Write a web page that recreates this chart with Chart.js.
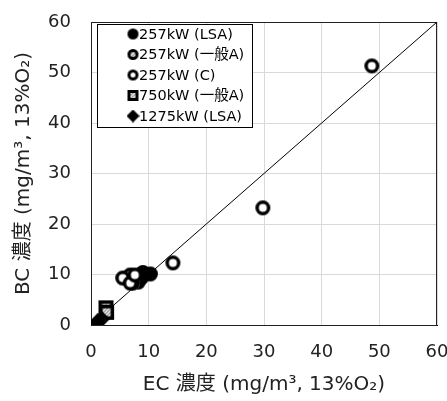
<!DOCTYPE html>
<html>
<head>
<meta charset="utf-8">
<script src="https://cdn.jsdelivr.net/npm/chart.js@4/dist/chart.umd.min.js"></script>
<style>
    html, body { margin: 0; padding: 0; background: #fff; }
    #wrap { width: 447px; height: 401px; }
</style>
</head>
<body>
<div id="wrap"><canvas id="chart" width="447" height="401"></canvas></div>
<script>
// Series values (EC on x, BC on y)
const lsaX = [8.2, 9.0, 10.3, 8.8];
const lsaY = [8.5, 10.4, 10.1, 9.4];
const ippanX = [6.8, 7.2];
const ippanY = [9.9, 8.3];
const cX = [48.7, 29.8, 14.2, 5.5, 6.8, 7.6];
const cY = [51.3, 23.2, 12.3, 9.3, 8.3, 9.9];
const sqX = [2.6, 2.7];
const sqY = [3.4, 2.5];
const diaX = [1.1, 1.8];
const diaY = [0.6, 1.2];

const seriesLabels = ['257kW (LSA)', '257kW (一般A)', '257kW (C)', '750kW (一般A)', '1275kW (LSA)'];
const markerKinds = ['filled', 'hatchCircle', 'ring', 'hatchSquare', 'diamond'];
const tickValues = [0, 10, 20, 30, 40, 50, 60];

const FONT = '"DejaVu Sans", Verdana, "Noto Sans CJK JP", sans-serif';

// build a marker image on a small canvas
function makeMarker(kind, d, lw) {
    const c = document.createElement('canvas');
    const s = d + 2;
    c.width = s; c.height = s;
    const g = c.getContext('2d');
    const m = s / 2;
    const hatch = () => {
        g.strokeStyle = '#9a9a9a';
        g.lineWidth = 1.5;
        for (let k = -s; k < 2 * s; k += 3.5) {
            g.beginPath();
            g.moveTo(k, s);
            g.lineTo(k + s, 0);
            g.stroke();
        }
    };
    if (kind === 'filled') {
        g.fillStyle = '#000';
        g.beginPath(); g.arc(m, m, d / 2, 0, Math.PI * 2); g.fill();
    } else if (kind === 'ring') {
        g.fillStyle = '#fff';
        g.strokeStyle = '#000';
        g.lineWidth = lw;
        g.beginPath(); g.arc(m, m, d / 2 - lw / 2, 0, Math.PI * 2); g.fill(); g.stroke();
    } else if (kind === 'hatchCircle') {
        g.save();
        g.beginPath(); g.arc(m, m, d / 2, 0, Math.PI * 2); g.clip();
        g.fillStyle = '#fff'; g.fillRect(0, 0, s, s);
        hatch();
        g.restore();
        g.strokeStyle = '#000'; g.lineWidth = lw;
        g.beginPath(); g.arc(m, m, d / 2 - lw / 2, 0, Math.PI * 2); g.stroke();
    } else if (kind === 'hatchSquare') {
        const a = 1;
        g.fillStyle = '#fff'; g.fillRect(a, a, d, d);
        g.save();
        g.beginPath(); g.rect(a, a, d, d); g.clip();
        hatch();
        g.restore();
        g.strokeStyle = '#000'; g.lineWidth = lw;
        g.strokeRect(a + lw / 2, a + lw / 2, d - lw, d - lw);
    } else if (kind === 'diamond') {
        g.fillStyle = '#000';
        g.beginPath();
        g.moveTo(m, 0); g.lineTo(s, m); g.lineTo(m, s); g.lineTo(0, m);
        g.closePath(); g.fill();
    }
    return c;
}

const plotMarkers = markerKinds.map(k => makeMarker(k, 15, 3.5));
const legendMarkers = markerKinds.map(k => makeMarker(k, 11, 3));

function pts(xs, ys) {
    return xs.map((x, i) => ({ x: x, y: ys[i] }));
}

// legend box drawn inside the plot, plus the plot frame
const boxLegend = {
    id: 'boxLegend',
    beforeDatasetsDraw(chart) {
        const { ctx, chartArea: a } = chart;
        ctx.save();
        ctx.strokeStyle = '#222';
        ctx.lineWidth = 1;
        ctx.strokeRect(a.left + 0.5, a.top + 0.5, a.right - a.left - 1, a.bottom - a.top);
        ctx.restore();
    },
    afterDraw(chart) {
        const { ctx, chartArea: a } = chart;
        const x0 = a.left + 6, y0 = a.top + 2;
        const w = 155, h = 103;
        ctx.save();
        ctx.fillStyle = '#fff';
        ctx.fillRect(x0, y0, w, h);
        ctx.strokeStyle = '#000';
        ctx.lineWidth = 1;
        ctx.strokeRect(x0 + 0.5, y0 + 0.5, w, h);
        ctx.font = '14.5px ' + FONT;
        ctx.fillStyle = '#000';
        ctx.textBaseline = 'middle';
        seriesLabels.forEach((lab, i) => {
            const cy = y0 + 10 + i * 20.5;
            const img = legendMarkers[i];
            ctx.drawImage(img, x0 + 36 - img.width / 2, cy - img.height / 2);
            ctx.fillText(lab, x0 + 42, cy + 1);
        });
        ctx.restore();
    }
};

const datasets = [
    { label: seriesLabels[0], data: pts(lsaX, lsaY) },
    { label: seriesLabels[1], data: pts(ippanX, ippanY) },
    { label: seriesLabels[2], data: pts(cX, cY) },
    { label: seriesLabels[3], data: pts(sqX, sqY) },
    { label: seriesLabels[4], data: pts(diaX, diaY) }
].map((ds, i) => Object.assign(ds, {
    type: 'scatter',
    pointStyle: plotMarkers[i],
    pointRadius: 8,
    order: 5 - i
}));

datasets.push({
    type: 'line',
    label: '1:1',
    data: [{ x: 0, y: 0 }, { x: 60, y: 60 }],
    borderColor: '#000',
    borderWidth: 1,
    pointRadius: 0,
    order: 10
});

new Chart(document.getElementById('chart'), {
    type: 'scatter',
    data: { datasets: datasets },
    options: {
        responsive: false,
        animation: false,
        layout: { padding: { left: 0, right: 10, top: 22, bottom: 0 } },
        plugins: {
            legend: { display: false },
            tooltip: { enabled: false }
        },
        scales: {
            x: {
                type: 'linear',
                min: 0, max: 60,
                afterBuildTicks: s => { s.ticks = tickValues.map(v => ({ value: v })); },
                afterFit: s => { s.height = 76; s.paddingLeft = 0; s.paddingRight = 0; },
                grid: { color: '#d9d9d9', drawTicks: false },
                border: { color: '#000', width: 1 },
                ticks: { color: '#222', font: { family: FONT, size: 18 }, padding: 17, maxRotation: 0 },
                title: {
                    display: true,
                    text: 'EC 濃度 (mg/m³, 13%O₂)',
                    color: '#222',
                    font: { family: FONT, size: 20 },
                    padding: { top: 8, bottom: 4 }
                }
            },
            y: {
                type: 'linear',
                min: 0, max: 60,
                afterBuildTicks: s => { s.ticks = tickValues.map(v => ({ value: v })); },
                afterFit: s => { s.width = 91; s.paddingTop = 0; s.paddingBottom = 0; },
                grid: { color: '#d9d9d9', drawTicks: false },
                border: { color: '#000', width: 1 },
                ticks: { color: '#222', font: { family: FONT, size: 18 }, padding: 20 },
                title: {
                    display: true,
                    text: 'BC 濃度 (mg/m³, 13%O₂)',
                    color: '#222',
                    font: { family: FONT, size: 20 },
                    padding: { top: 12, bottom: 0 }
                }
            }
        }
    },
    plugins: [boxLegend]
});
</script>
</body>
</html>
